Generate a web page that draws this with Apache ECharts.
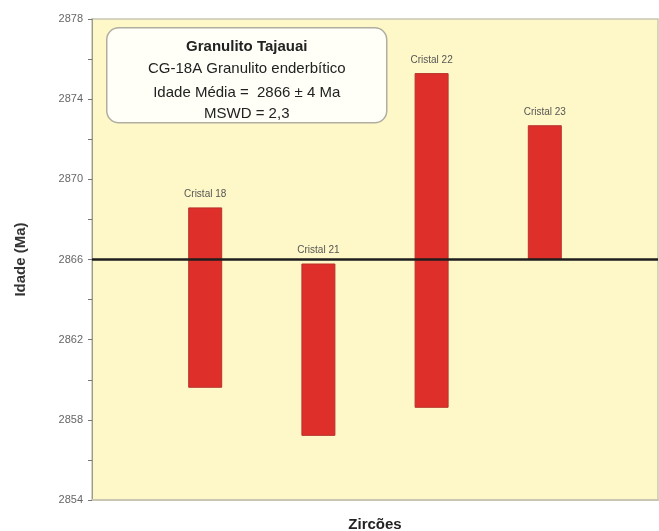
<!DOCTYPE html>
<html>
<head>
<meta charset="utf-8">
<script src="https://cdn.jsdelivr.net/npm/echarts@6/dist/echarts.min.js"></script>
<style>
  html, body { margin: 0; padding: 0; background: #fff; }
  #chart { width: 659px; height: 531px; }
</style>
</head>
<body>
<div id="chart"></div>
<script>
// zircon crystals, padded with empty slots so they sit at 1/5..4/5 of the width
const categories = ["", "Cristal 18", "Cristal 21", "Cristal 22", "Cristal 23", ""];
const lowAge = [null, 2859.6, 2857.2, 2858.6, 2866.0, null];
const highAge = [null, 2868.6, 2865.8, 2875.3, 2872.7, null];
const meanAge = 2866;
const yTicks = [2854, 2858, 2862, 2866, 2870, 2874, 2878];

const spanAge = highAge.map((h, i) => (h == null ? null : +(h - lowAge[i]).toFixed(2)));

const chart = echarts.init(document.getElementById("chart"));

const option = {
  animation: false,
  grid: {
    left: 92,
    right: 1,
    top: 19,
    bottom: 31,
    outerBoundsMode: "none",
    show: true,
    backgroundColor: "#FEF8C8",
    borderColor: "#C9C6B4",
    borderWidth: 1.5,
  },
  xAxis: {
    type: "category",
    data: categories,
    boundaryGap: false,
    name: "Zircões",
    nameLocation: "middle",
    nameGap: 17,
    nameTextStyle: {
      fontFamily: "Liberation Sans",
      fontWeight: "bold",
      fontSize: 15,
      color: "#222",
    },
    axisLine: { show: true, lineStyle: { color: "#C9C6B4", width: 2 } },
    axisTick: { show: false },
    axisLabel: { show: false },
    splitLine: { show: false },
  },
  yAxis: {
    type: "value",
    min: yTicks[0],
    max: yTicks[yTicks.length - 1],
    interval: 4,
    name: "Idade (Ma)",
    nameLocation: "middle",
    nameGap: 64,
    nameTextStyle: {
      fontFamily: "Liberation Sans",
      fontWeight: "bold",
      fontSize: 15,
      color: "#333",
    },
    axisLine: { show: true, lineStyle: { color: "#9A9A90", width: 1 } },
    axisTick: { show: true, length: 4, lineStyle: { color: "#777" } },
    minorTick: { show: true, splitNumber: 2, length: 4, lineStyle: { color: "#777" } },
    axisLabel: {
      fontFamily: "Liberation Sans Narrow, Liberation Sans",
      fontSize: 11,
      color: "#666",
      margin: 9,
      formatter: (v) => String(v),
    },
    splitLine: { show: false },
  },
  series: [
    {
      name: "base",
      type: "bar",
      stack: "age",
      data: lowAge,
      barWidth: 34,
      itemStyle: { color: "transparent" },
      silent: true,
    },
    {
      name: "Idade",
      type: "bar",
      stack: "age",
      data: spanAge,
      barWidth: 34,
      itemStyle: { color: "#DE2F2B", borderColor: "#B8322B", borderWidth: 1 },
      label: {
        show: true,
        position: "top",
        distance: 8,
        formatter: (p) => categories[p.dataIndex],
        fontFamily: "Liberation Sans Narrow, Liberation Sans",
        fontSize: 10,
        color: "#555",
      },
      markLine: {
        symbol: "none",
        silent: true,
        label: { show: false },
        lineStyle: { color: "#1E1E1E", width: 2.5, type: "solid" },
        data: [{ yAxis: meanAge }],
      },
      z: 3,
    },
  ],
  graphic: [
    {
      type: "group",
      left: 106,
      top: 27,
      children: [
        {
          type: "rect",
          shape: { x: 0, y: 0, width: 280, height: 95, r: 12 },
          style: { fill: "#FFFFF8", stroke: "#B0AEA0", lineWidth: 1.5 },
        },
        {
          type: "text",
          x: 140,
          y: 19,
          style: {
            text: "Granulito Tajauai",
            fontFamily: "Liberation Sans",
            fontWeight: "bold",
            fontSize: 15,
            fill: "#222",
            align: "center",
            verticalAlign: "middle",
          },
        },
        {
          type: "text",
          x: 140,
          y: 41,
          style: {
            text: "CG-18A Granulito enderbítico",
            fontFamily: "Liberation Sans",
            fontSize: 15,
            fill: "#222",
            align: "center",
            verticalAlign: "middle",
          },
        },
        {
          type: "text",
          x: 140,
          y: 65,
          style: {
            text: "Idade Média =  2866 ± 4 Ma",
            fontFamily: "Liberation Sans",
            fontSize: 15,
            fill: "#222",
            align: "center",
            verticalAlign: "middle",
          },
        },
        {
          type: "text",
          x: 140,
          y: 86,
          style: {
            text: "MSWD = 2,3",
            fontFamily: "Liberation Sans",
            fontSize: 15,
            fill: "#222",
            align: "center",
            verticalAlign: "middle",
          },
        },
      ],
    },
  ],
};

chart.setOption(option);
</script>
</body>
</html>
